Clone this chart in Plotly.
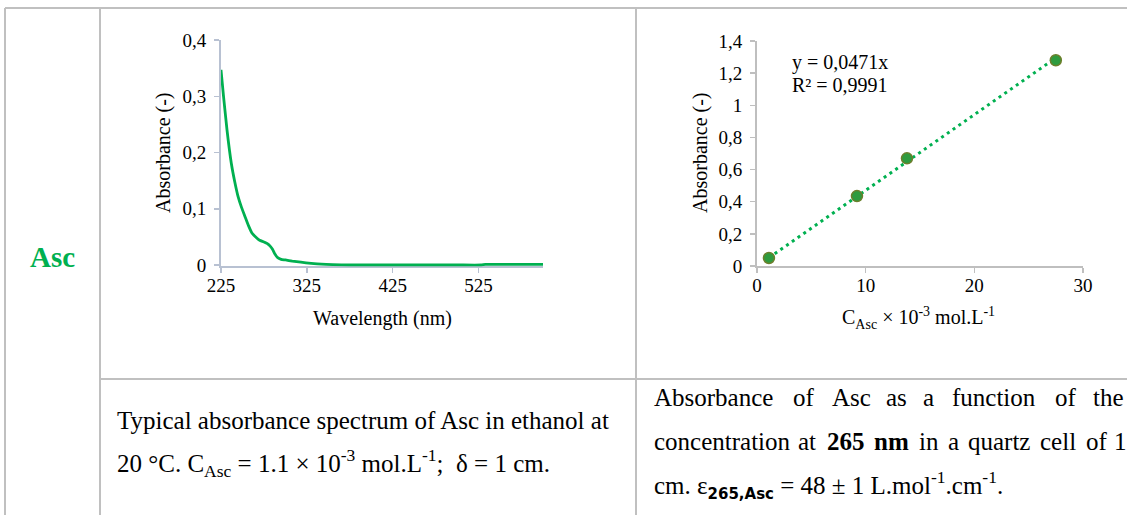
import plotly.graph_objects as go

# ---------------- data ----------------
wavelength_nm = [225, 228, 232, 237, 241, 245, 249, 253, 257, 261, 266, 270, 275, 279, 282, 285,
                 288, 291, 295, 300, 308, 318, 330, 342, 355, 375, 400, 450, 500, 528, 533, 560, 600]
absorbance_spec = [0.347, 0.299, 0.240, 0.181, 0.148, 0.121, 0.102, 0.086, 0.070, 0.057, 0.049, 0.044,
                   0.041, 0.038, 0.034, 0.028, 0.019, 0.013, 0.010, 0.009, 0.007, 0.005, 0.003,
                   0.0015, 0.0007, 0.0, 0.0, 0.0, 0.0, 0.0, 0.001, 0.0012, 0.0012]

conc = [1.1, 9.2, 13.8, 27.5]            # C_Asc x 10^-3 mol/L
absorbance_cal = [0.05, 0.435, 0.67, 1.28]
slope = 0.0471
r2 = 0.9991

spec_xticks = [225, 325, 425, 525]
spec_yticks = [0, 0.1, 0.2, 0.3, 0.4]
spec_yticklabels = ["0", "0,1", "0,2", "0,3", "0,4"]
cal_xticks = [0, 10, 20, 30]
cal_yticks = [0, 0.2, 0.4, 0.6, 0.8, 1.0, 1.2, 1.4]
cal_yticklabels = ["0", "0,2", "0,4", "0,6", "0,8", "1", "1,2", "1,4"]

# ---------------- layout helpers ----------------
W, H = 1127, 515
def px(x):
    return x / W
def py(y):
    return 1 - y / H

SERIF = "Liberation Serif"
GREEN = "#00B050"
GRID_GRAY = "#c0c0c0"

fig = go.Figure()

fig.add_trace(go.Scatter(
    x=wavelength_nm, y=absorbance_spec, mode="lines",
    line=dict(color=GREEN, width=2.8, shape="spline", smoothing=0.5),
    xaxis="x", yaxis="y", hoverinfo="skip"))

trend_x = [conc[0], conc[-1]]
trend_y = [slope * v for v in trend_x]
fig.add_trace(go.Scatter(
    x=trend_x, y=trend_y, mode="lines",
    line=dict(color=GREEN, width=3, dash="3px,4px"),
    xaxis="x2", yaxis="y2", hoverinfo="skip"))
fig.add_trace(go.Scatter(
    x=conc, y=absorbance_cal, mode="markers",
    marker=dict(size=11, color="#2e9b3e", line=dict(color="#6b7f2c", width=1.5)),
    xaxis="x2", yaxis="y2", hoverinfo="skip"))

tickfont = dict(family=SERIF, size=19, color="#000000")
spec_axis_col = "#b8c1d2"
cal_axis_col = "#bfbfbf"

y0_pix = 265
y_off = 0.0025
common = dict(showline=True, linewidth=2, ticks="outside", ticklen=5, tickwidth=1.5,
              showgrid=False, zeroline=False, tickfont=tickfont, layer="below traces",
              automargin=False)
layout_axes = dict(
    xaxis=dict(domain=[px(221), px(543)], range=[225, 600], tickvals=spec_xticks,
               linecolor=spec_axis_col, tickcolor=spec_axis_col, anchor="y",
               ticklabelstandoff=-4, **common),
    yaxis=dict(domain=[py(y0_pix + y_off * 562.5), py(40)], range=[-y_off, 0.4],
               tickvals=spec_yticks, ticktext=spec_yticklabels,
               linecolor=spec_axis_col, tickcolor=spec_axis_col, anchor="x",
               ticklabelstandoff=4, **common),
    xaxis2=dict(domain=[px(757), px(1083)], range=[0, 30], tickvals=cal_xticks,
                linecolor=cal_axis_col, tickcolor=cal_axis_col, anchor="y2",
                ticklabelstandoff=-4, **common),
    yaxis2=dict(domain=[py(266), py(41)], range=[0, 1.4], tickvals=cal_yticks,
                ticktext=cal_yticklabels,
                linecolor=cal_axis_col, tickcolor=cal_axis_col, anchor="x2",
                ticklabelstandoff=4, **common),
)

# ---------------- table lines ----------------
def hline(y, x0, x1):
    return dict(type="line", xref="paper", yref="paper", x0=px(x0), x1=px(x1), y0=py(y), y1=py(y),
                line=dict(color=GRID_GRAY, width=2))
def vline(x, y0, y1):
    return dict(type="line", xref="paper", yref="paper", x0=px(x), x1=px(x), y0=py(y0), y1=py(y1),
                line=dict(color=GRID_GRAY, width=2))

shapes = [hline(8, 5, 1127), vline(5, 8, 515), vline(100, 8, 515), vline(636, 8, 515),
          hline(379, 100, 1127)]

# ---------------- annotations ----------------
ann = []
def text(x, y, s, size=20, xanchor="center", yanchor="middle", angle=0, color="#000000", family=SERIF):
    ann.append(dict(xref="paper", yref="paper", x=px(x), y=py(y), text=s, showarrow=False,
                    xanchor=xanchor, yanchor=yanchor, textangle=angle,
                    font=dict(family=family, size=size, color=color)))

text(52, 257, "<b>Asc</b>", size=29, color=GREEN)

# chart 1 titles
text(163, 153, "Absorbance (-)", size=20, angle=-90)
text(382, 318, "Wavelength (nm)", size=20)
# chart 2 titles
text(700, 153, "Absorbance (-)", size=20, angle=-90)
text(918, 318, "C<sub>Asc</sub> × 10<sup>-3</sup> mol.L<sup>-1</sup>", size=20)
# equation
text(790, 62, f"y = {str(slope).replace('.', ',')}x", size=20, xanchor="left")
text(790, 85, f"R² = {str(r2).replace('.', ',')}", size=20, xanchor="left")

# captions
CAP = 25
text(115, 420, "Typical absorbance spectrum of Asc in ethanol at", size=CAP, xanchor="left")
text(115, 463, "20 °C. C<sub>Asc</sub> = 1.1 × 10<sup>-3</sup> mol.L<sup>-1</sup>;  δ = 1 cm.",
     size=CAP, xanchor="left")

line1_words = ["Absorbance", "of", "Asc", "as", "a", "function", "of", "the"]
line1_x = [652, 791, 830, 884, 921, 950, 1053, 1091]
for w, x in zip(line1_words, line1_x):
    text(x, 397, w, size=CAP, xanchor="left")

line2_words = ["concentration", "at", "<b>265</b>", "<b>nm</b>", "in", "a", "quartz", "cell", "of", "1"]
line2_x = [652, 796, 825, 872, 917, 946, 966, 1038, 1084, 1112]
for w, x in zip(line2_words, line2_x):
    text(x, 441, w, size=CAP, xanchor="left")

text(652, 485, "cm. ε<sub><span style='font-family:DejaVu Sans;font-weight:bold;font-size:15px'>265,Asc</span></sub>"
     " = 48 ± 1 L.mol<sup>-1</sup>.cm<sup>-1</sup>.", size=CAP, xanchor="left")

fig.update_layout(
    template="none",
    width=W, height=H, margin=dict(l=0, r=0, t=0, b=0, pad=0, autoexpand=False),
    paper_bgcolor="white", plot_bgcolor="white", showlegend=False,
    shapes=shapes, annotations=ann, **layout_axes)

fig.write_html("out.html", config={"displayModeBar": False, "staticPlot": True},
               post_script="document.body.style.margin='0px';")
